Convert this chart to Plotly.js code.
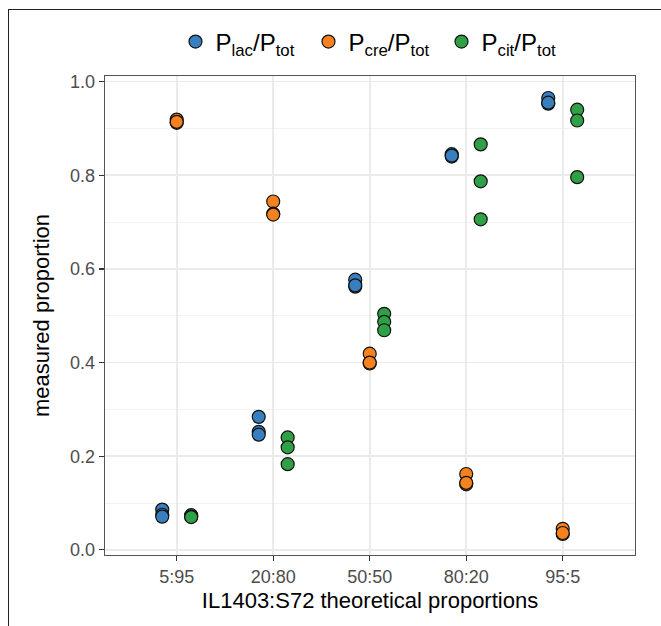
<!DOCTYPE html>
<html>
<head>
<meta charset="utf-8">
<script src="https://cdn.plot.ly/plotly-3.0.1.min.js"></script>
<style>
  html, body { margin: 0; padding: 0; background: #fff; overflow: hidden; }
  #chart { width: 661px; height: 626px; }
  #frame { position: absolute; left: 8px; top: 9px; width: 800px; height: 800px;
           border-left: 1px solid #222; border-top: 1px solid #222; pointer-events: none; }
</style>
</head>
<body>
<div id="chart"></div>
<div id="frame"></div>
<script>
// Categories (theoretical IL1403:S72 proportions)
const categories = ["5:95", "20:80", "50:50", "80:20", "95:5"];

// Measured proportions, three replicates per category
const lac = [[0.086, 0.075, 0.071], [0.284, 0.252, 0.246], [0.577, 0.562, 0.565], [0.845, 0.840, 0.842], [0.965, 0.953, 0.955]];
const cre = [[0.919, 0.912, 0.914], [0.744, 0.718, 0.716], [0.419, 0.398, 0.400], [0.162, 0.140, 0.143], [0.045, 0.034, 0.036]];
const cit = [[0.074, 0.071, 0.070], [0.240, 0.219, 0.183], [0.504, 0.487, 0.469], [0.866, 0.787, 0.706], [0.940, 0.917, 0.796]];

const seriesNames = ["P<sub>lac</sub>/P<sub>tot</sub>", "P<sub>cre</sub>/P<sub>tot</sub>", "P<sub>cit</sub>/P<sub>tot</sub>"];
const seriesColors = ["#377fbf", "#f5821f", "#2fa045"];
const dodge = [-0.15, 0, 0.15];

const allSeries = [lac, cre, cit];
const traces = allSeries.map((ser, s) => {
  const xs = [], ys = [];
  ser.forEach((reps, i) => reps.forEach(v => { xs.push(i + 1 + dodge[s]); ys.push(v); }));
  return {
    type: "scatter", mode: "markers", x: xs, y: ys, name: seriesNames[s],
    marker: { color: seriesColors[s], size: 13, line: { color: "#111", width: 1.2 } },
    hoverinfo: "y"
  };
});

const font = "Liberation Sans, Arial, Helvetica, sans-serif";
const layout = {
  width: 661, height: 626,
  margin: { l: 105, r: 26, t: 76, b: 71 },
  paper_bgcolor: "rgba(0,0,0,0)", plot_bgcolor: "#fff",
  font: { family: font, color: "#000" },
  showlegend: true,
  legend: { orientation: "h", x: 0.133, xanchor: "left", y: 1.071, yanchor: "middle",
            font: { size: 24, color: "#000" }, itemwidth: 30, entrywidth: 88, entrywidthmode: "pixels",
            tracegroupgap: 0 },
  xaxis: {
    range: [0.257, 5.749], tickmode: "array", tickvals: [1, 2, 3, 4, 5], ticktext: categories,
    showgrid: true, gridcolor: "#ebebeb", gridwidth: 1.6, zeroline: false,
    showline: true, mirror: true, linecolor: "#555", linewidth: 1.3,
    ticks: "outside", ticklen: 5, tickwidth: 1.3, tickcolor: "#333",
    tickfont: { size: 18, color: "#4d4d4d" },
    title: { text: "IL1403:S72 theoretical proportions", font: { size: 22, color: "#000" }, standoff: 6 }
  },
  yaxis: {
    range: [-0.011, 1.012], tickmode: "array", tickvals: [0, 0.2, 0.4, 0.6, 0.8, 1.0],
    ticktext: ["0.0", "0.2", "0.4", "0.6", "0.8", "1.0"],
    showgrid: true, gridcolor: "#ebebeb", gridwidth: 1.6, zeroline: false,
    minor: { tickvals: [0.1, 0.3, 0.5, 0.7, 0.9], showgrid: true, gridcolor: "#f2f2f2", gridwidth: 0.9 },
    showline: true, mirror: true, linecolor: "#555", linewidth: 1.3,
    ticks: "outside", ticklen: 5, tickwidth: 1.3, tickcolor: "#333",
    tickfont: { size: 18, color: "#4d4d4d" },
    title: { text: "measured proportion", font: { size: 22, color: "#000" }, standoff: 14 }
  }
};

Plotly.newPlot("chart", traces, layout, { displayModeBar: false, staticPlot: true });
</script>
</body>
</html>
